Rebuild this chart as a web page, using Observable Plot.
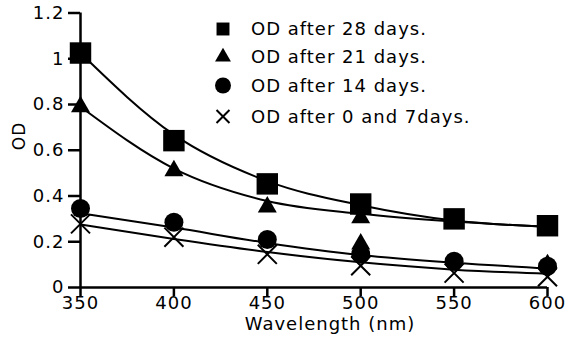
<!DOCTYPE html>
<html>
<head>
<meta charset="utf-8">
<script src="https://cdn.jsdelivr.net/npm/d3@7"></script>
<script src="https://cdn.jsdelivr.net/npm/@observablehq/plot@0.6"></script>
<style>
  html, body { margin: 0; padding: 0; background: #fff; }
  #chart { width: 575px; height: 341px; font-family: "DejaVu Sans", Verdana, sans-serif; }
  #chart svg text { letter-spacing: 1px; }
  #chart svg g.legend text { letter-spacing: 1px; }
</style>
</head>
<body>
<div id="chart"></div>
<script>
// ---- data ----
const wavelengths = [350, 400, 450, 500, 550, 600];
const xTicks = [350, 400, 450, 500, 550, 600];
const yTicks = [0, 0.2, 0.4, 0.6, 0.8, 1, 1.2];

const od28 = [1.025, 0.642, 0.453, 0.365, 0.30, 0.27];
const fit28 = [1.025, 0.668, 0.465, 0.36, 0.293, 0.265];

const od21Wavelengths = [350, 400, 450, 500, 500, 550, 600];
const od21 = [0.79, 0.51, 0.352, 0.305, 0.19, 0.295, 0.10];
const fit21 = [0.79, 0.52, 0.378, 0.322, 0.288, 0.265];

const od14 = [0.345, 0.285, 0.21, 0.145, 0.115, 0.093];
const fit14 = [0.325, 0.262, 0.195, 0.142, 0.108, 0.083];

const od0and7 = [0.278, 0.22, 0.145, 0.095, 0.063, 0.047];
const fit0and7 = [0.275, 0.212, 0.155, 0.11, 0.078, 0.06];

const legendLabels = ["OD after 28 days.", "OD after 21 days.", "OD after 14 days.", "OD after 0 and 7days."];

// ---- build tables ----
const pts = (xs, ys) => xs.map((x, i) => ({x, y: ys[i]}));
const lineStyle = {x: "x", y: "y", curve: "monotone-x", stroke: "black", strokeWidth: 2};

const chart = Plot.plot({
  width: 575,
  height: 341,
  marginLeft: 80,
  marginRight: 28,
  marginTop: 12.5,
  marginBottom: 54,
  x: {domain: [350, 600]},
  y: {domain: [0, 1.2]},
  style: {fontFamily: "DejaVu Sans, Verdana, sans-serif", fontSize: "18px", background: "white", color: "black", overflow: "visible"},
  marks: [
    Plot.line(pts(wavelengths, fit28), lineStyle),
    Plot.line(pts(wavelengths, fit21), lineStyle),
    Plot.line(pts(wavelengths, fit14), lineStyle),
    Plot.line(pts(wavelengths, fit0and7), lineStyle),
    Plot.ruleX([350], {stroke: "black", strokeWidth: 2.5}),
    Plot.ruleY([0], {stroke: "black", strokeWidth: 2.5}),
    Plot.axisX({ticks: xTicks, tickSize: 9, tickPadding: 0, strokeWidth: 2.5, label: null, tickFormat: d => String(d), fontSize: 18}),
    Plot.axisY({ticks: yTicks, tickSize: 12, tickPadding: 4, strokeWidth: 2.5, label: null, tickFormat: d => String(d), fontSize: 18}),
    Plot.text(["Wavelength (nm)"], {text: d => d, frameAnchor: "bottom", dx: 16, dy: 30, lineAnchor: "top", fontSize: 18}),
    Plot.text(["OD"], {text: d => d, frameAnchor: "left", rotate: -90, dx: -61, fontSize: 17}),
    Plot.dot(pts(od21Wavelengths, od21), {x: "x", y: "y", symbol: "triangle", r: 7.05, fill: "black"}),
    Plot.dot(pts(wavelengths, od28), {x: "x", y: "y", symbol: "square", r: 12.1, fill: "black"}),
    Plot.dot(pts(wavelengths, od14), {x: "x", y: "y", symbol: "circle", r: 9.5, fill: "black"}),
    Plot.dot(pts(wavelengths, od0and7), {x: "x", y: "y", symbol: "times", r: 8.7, stroke: "black", strokeWidth: 2})
  ]
});

document.getElementById("chart").append(chart);

// ---- legend (inside the plot area) ----
const svg = d3.select(chart.tagName.toLowerCase() === "svg" ? chart : chart.querySelector("svg"));
const legendTypes = [
  {type: d3.symbolSquare, r: 7.3, filled: true},
  {type: d3.symbolTriangle, r: 5.9, filled: true},
  {type: d3.symbolCircle, r: 8, filled: true},
  {type: d3.symbolTimes, r: 5.95, filled: false}
];
const legendRowY = [29, 57, 85.5, 116.5];
const lg = svg.append("g")
  .attr("class", "legend")
  .attr("font-family", "DejaVu Sans, Verdana, sans-serif")
  .attr("font-size", 18)
  .attr("text-anchor", "start");
legendLabels.forEach((label, i) => {
  const t = legendTypes[i];
  const g = lg.append("g").attr("transform", `translate(0,${legendRowY[i]})`);
  g.append("path")
    .attr("transform", "translate(223,0)")
    .attr("d", d3.symbol().type(t.type).size(Math.PI * t.r * t.r)())
    .attr("fill", t.filled ? "black" : "none")
    .attr("stroke", t.filled ? "none" : "black")
    .attr("stroke-width", t.filled ? 0 : 2);
  g.append("text")
    .attr("x", 251)
    .attr("dy", "0.35em")
    .attr("text-anchor", "start")
    .attr("fill", "black")
    .text(label);
});
</script>
</body>
</html>
